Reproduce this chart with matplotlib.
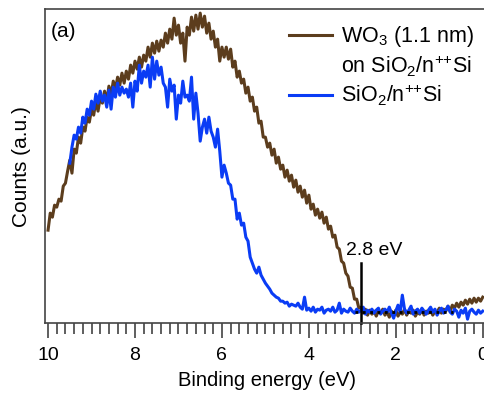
import numpy as np
import matplotlib
matplotlib.use('Agg')
import matplotlib.pyplot as plt
from matplotlib.lines import Line2D

plt.rcParams['font.family'] = ['Liberation Sans', 'DejaVu Sans']
plt.rcParams['mathtext.fontset'] = 'custom'
plt.rcParams['mathtext.rm'] = 'Liberation Sans'
plt.rcParams['mathtext.default'] = 'rm'

# spectra, 0.05 eV steps (counts in arbitrary units)
energy_wo3 = np.round(np.arange(10.0, -0.001, -0.05), 2)
counts_wo3 = [
    93, 110, 106, 118, 116, 124, 122, 137, 140, 152,
    163, 150, 174, 170, 186, 180, 196, 192, 206, 201,
    214, 208, 222, 212, 226, 220, 232, 222, 237, 228,
    242, 234, 246, 238, 250, 240, 252, 244, 258, 250,
    262, 254, 266, 256, 268, 262, 276, 266, 280, 270,
    282, 272, 283, 276, 290, 280, 294, 284, 305, 288,
    298, 280, 290, 262, 296, 288, 306, 292, 308, 294,
    310, 296, 307, 290, 300, 284, 292, 276, 284, 262,
    276, 266, 276, 264, 274, 256, 262, 246, 252, 240,
    244, 230, 236, 222, 226, 212, 216, 200, 202, 186,
    186, 176, 180, 168, 174, 160, 166, 154, 158, 146,
    153, 142, 148, 136, 143, 131, 137, 126, 133, 120,
    128, 114, 119, 108, 114, 105, 111, 100, 106, 94,
    97, 86, 88, 76, 74, 62, 60, 50, 47, 36,
    35, 24, 24, 15, 16, 10, 14, 8, 13, 9,
    12, 7, 12, 10, 14, 8, 11, 6, 12, 9,
    13, 7, 11, 9, 14, 8, 12, 10, 13, 7,
    11, 9, 14, 8, 12, 10, 13, 8, 12, 11,
    15, 10, 14, 12, 17, 12, 18, 15, 20, 16,
    21, 18, 23, 19, 24, 20, 25, 21, 25, 22,
    26,
]

energy_sio2 = np.round(np.arange(9.5, -0.001, -0.05), 2)
counts_sio2 = [
    160, 176, 188, 184, 196, 190, 206, 200, 214, 208,
    222, 214, 229, 220, 232, 222, 228, 216, 233, 214,
    236, 226, 240, 228, 236, 230, 234, 226, 240, 216,
    242, 232, 258, 240, 252, 246, 258, 236, 266, 244,
    262, 248, 256, 240, 236, 216, 244, 232, 238, 204,
    228, 220, 242, 226, 228, 222, 246, 204, 230, 210,
    182, 196, 204, 190, 206, 192, 186, 176, 194, 172,
    146, 158, 150, 140, 138, 124, 124, 104, 110, 98,
    100, 86, 82, 66, 60, 54, 50, 56, 48, 44,
    40, 37, 34, 30, 28, 26, 25, 22, 22, 20,
    21, 17, 19, 18, 17, 20, 16, 14, 26, 13,
    15, 12, 16, 11, 14, 13, 16, 10, 13, 14,
    12, 16, 11, 13, 20, 10, 14, 12, 11, 15,
    12, 10, 14, 11, 13, 16, 9, 13, 11, 14,
    10, 13, 15, 9, 12, 14, 11, 16, 10, 5,
    12, 18, 11, 28, 14, 10, 13, 17, 9, 12,
    14, 10, 15, 12, 9, 13, 16, 11, 14, 8,
    12, 15, 10, 13, 17, 11, 9, 14, 12, 6,
    13, 10, 15, 4, 12, 14, 11, 9, 13, 10,
    12,
]

onset = 2.8
baseline = 11
baseline_span = (2.95, 0.68)

brown = '#5c3d1d'
blue = '#0a3cf5'

fig = plt.figure(figsize=(4.84, 3.97), dpi=100)
ax = fig.add_axes([0.093, 0.186, 0.917, 0.791])

ax.plot(energy_wo3, counts_wo3, color=brown, lw=2.2)
ax.plot(energy_sio2, counts_sio2, color=blue, lw=2.2)

# onset marker
ax.plot(baseline_span, [baseline, baseline], ls=':', color='black', lw=2)
ax.plot([onset, onset], [0, 60], color='black', lw=1.8, clip_on=False)
ax.text(3.15, 73, '2.8 eV', fontsize=14, ha='left', va='center')

ax.set_xlim(10.07, -0.14)
ax.set_ylim(0, 314)
ax.set_xticks([10, 8, 6, 4, 2, 0])
ax.set_xticks(np.arange(0, 10.01, 0.2), minor=True)
ax.set_yticks([])
ax.tick_params(axis='x', which='major', length=11, width=1.1, labelsize=14, pad=6, color='#333333')
ax.tick_params(axis='x', which='minor', length=8, width=1.1, color='#333333')

for s in ['left', 'bottom', 'top']:
    ax.spines[s].set_color('#444444')
    ax.spines[s].set_linewidth(1.2)
ax.spines['right'].set_visible(False)

ax.set_xlabel('Binding energy (eV)', fontsize=14.5, labelpad=5)
ax.set_ylabel('Counts (a.u.)', fontsize=15, labelpad=10)

ax.text(0.012, 0.96, '(a)', transform=ax.transAxes, fontsize=15, va='top', ha='left')

handles = [Line2D([], [], color=brown, lw=2.2),
           Line2D([], [], color='none'),
           Line2D([], [], color=blue, lw=2.2)]
labels = ['WO$_3$ (1.1 nm)', 'on SiO$_2$/n$^{{+}{+}}$Si', 'SiO$_2$/n$^{{+}{+}}$Si']
ax.legend(handles, labels, loc='upper right', bbox_to_anchor=(1.0, 1.0),
          frameon=False, fontsize=15.5, handlelength=2.0, handletextpad=0.4,
          labelspacing=0.2, borderaxespad=0.3)

fig.savefig('out.png', dpi=100)
